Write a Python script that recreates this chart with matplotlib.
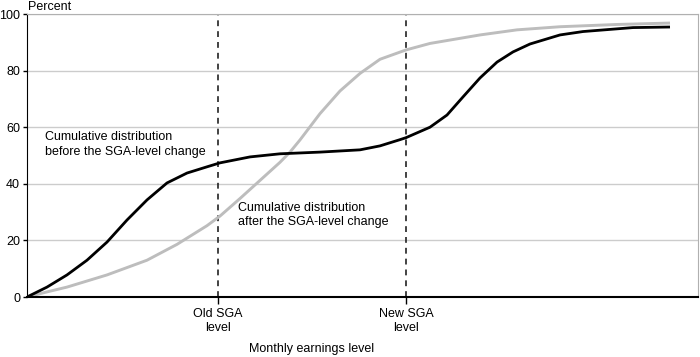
import matplotlib.pyplot as plt

plt.rcParams['font.family'] = ['Liberation Sans', 'DejaVu Sans']

# earnings position (arbitrary units) and cumulative percent
before_x = [0, 20, 40, 60, 80, 100, 120, 140, 160, 180, 193, 223, 253, 293, 333, 353, 373, 379,
            403, 420, 436, 453, 470, 486, 503, 533, 556, 606, 643]
before_y = [0, 3.5, 7.8, 13, 19.4, 27.2, 34.3, 40.3, 43.8, 46, 47.4, 49.5, 50.6, 51.2, 52, 53.4, 55.6, 56.3,
            60, 64.3, 70.7, 77.4, 83, 86.6, 89.4, 92.6, 93.8, 95.2, 95.4]

after_x = [0, 20, 40, 80, 120, 150, 180, 193, 213, 233, 253, 263, 273, 293, 313, 333, 353, 379,
           403, 453, 490, 533, 590, 643]
after_y = [0, 1.8, 3.5, 7.8, 13, 18.6, 25.2, 28.6, 34.8, 41.2, 47.6, 51.2, 55.5, 64.8, 72.8, 79, 84, 87.3,
           89.6, 92.6, 94.4, 95.5, 96.3, 96.8]

sga_pos = [191, 379]
sga_labels = ["Old SGA\nlevel", "New SGA\nlevel"]
y_ticks = [0, 20, 40, 60, 80, 100]

fig = plt.figure(figsize=(7, 3.57), dpi=100)
ax = fig.add_axes([27 / 700, 1 - 297 / 357, 671 / 700, 283 / 357])

for y in y_ticks[1:]:
    ax.axhline(y, color="#cccccc", lw=1, zorder=0)

for x in sga_pos:
    ax.axvline(x, color="#222222", lw=1.2, ls=(0, (3.5, 3)), zorder=1)

ax.plot(after_x, after_y, color="#bdbdbd", lw=2.1, solid_capstyle="butt", solid_joinstyle="round", zorder=2)
ax.plot(before_x, before_y, color="black", lw=2.0, solid_capstyle="butt", solid_joinstyle="round", zorder=3)

ax.set_xlim(0, 671)
ax.set_ylim(0, 100)
ax.set_yticks(y_ticks)
ax.set_xticks(sga_pos)
ax.set_xticklabels(sga_labels, fontsize=9, linespacing=1.2)
ax.tick_params(axis="y", length=3, width=1, labelsize=9, pad=2)
ax.tick_params(axis="x", length=5, width=1, pad=3)

ax.spines["left"].set_color("black")
ax.spines["bottom"].set_color("black")
ax.spines["bottom"].set_linewidth(1.5)
ax.spines["top"].set_color("#b0b0b0")
ax.spines["right"].set_color("#b0b0b0")

ax.text(18, 58.5, "Cumulative distribution\nbefore the SGA-level change", fontsize=9,
        va="top", ha="left", linespacing=1.25)
ax.text(211, 33.5, "Cumulative distribution\nafter the SGA-level change", fontsize=9,
        va="top", ha="left", linespacing=1.25)

fig.text(28 / 700, 1 - 7 / 357, "Percent", fontsize=9, va="center", ha="left")
fig.text(312 / 700, 1 - 349 / 357, "Monthly earnings level", fontsize=9, va="center", ha="center")

fig.savefig("out.png", dpi=100)
